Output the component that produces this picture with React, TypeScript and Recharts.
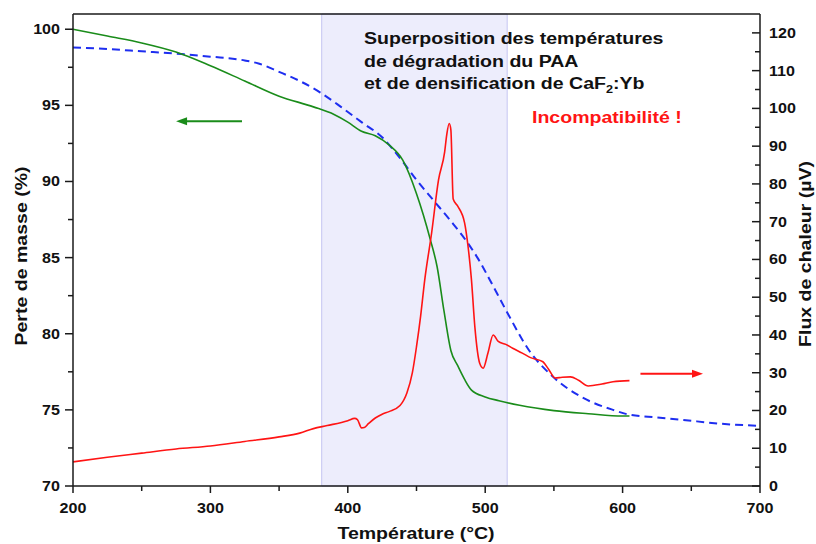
import React from 'react';
import {
  LineChart, Line, XAxis, YAxis, ReferenceArea, ReferenceLine,
} from 'recharts';

// mass loss (TGA), left axis
const massTemp = [200, 225, 250, 275, 300, 325, 350, 375, 390, 400, 410, 420, 430, 440, 450, 455, 460, 465, 470, 475, 480, 485, 490, 500, 510, 525, 550, 575, 600, 605];
const massLoss = [100, 99.55, 99.1, 98.5, 97.6, 96.6, 95.6, 94.9, 94.4, 93.9, 93.3, 93.0, 92.4, 91.4, 89.2, 87.8, 86.2, 84.4, 81.5, 78.9, 77.9, 77.0, 76.3, 75.85, 75.6, 75.3, 74.95, 74.75, 74.6, 74.6];

// densification curve (dashed), left axis
const densTemp = [200, 225, 250, 275, 300, 325, 335, 350, 365, 380, 395, 410, 425, 440, 450, 462, 475, 487, 495, 503, 516, 532, 549, 569, 593, 604, 625, 644, 670, 700];
const densCurve = [98.8, 98.7, 98.55, 98.4, 98.2, 97.95, 97.75, 97.2, 96.6, 95.84, 94.9, 93.9, 92.9, 91.3, 90.1, 88.8, 87.4, 86.0, 84.9, 83.6, 81.4, 78.9, 77.2, 75.9, 75.0, 74.7, 74.5, 74.34, 74.1, 73.95];

// heat flux (DSC), right axis
const fluxTemp = [200, 225, 250, 275, 300, 325, 350, 365, 375, 385, 400, 405, 407, 410, 412, 415, 420, 425, 430, 438, 443, 447, 450, 453, 456, 461, 466, 470.5, 472, 473.8, 475, 476.7, 480, 485, 487.5, 490, 492.5, 496, 498.5, 502, 505.8, 509.5, 515, 520, 527, 533, 542, 546, 551, 556, 562, 568, 575, 585, 593, 605];
const heatFlux = [6.4, 7.6, 8.7, 9.8, 10.6, 11.8, 13.0, 14.0, 15.2, 16.0, 17.3, 17.9, 17.6, 15.4, 15.5, 16.5, 18.0, 19.0, 19.7, 21.3, 24.6, 30, 36.9, 45, 54.6, 67, 81, 88.5, 93, 96, 94.4, 76, 74.1, 69.7, 63.5, 54.6, 42, 32.5, 31.2, 35.2, 40, 38.3, 37.5, 36.5, 35.2, 34.0, 32.9, 31, 28.6, 28.8, 28.9, 28.0, 26.5, 27.0, 27.6, 27.9];

const xTicks = [200, 250, 300, 350, 400, 450, 500, 550, 600, 650, 700];
const leftTicks = [70, 72.5, 75, 77.5, 80, 82.5, 85, 87.5, 90, 92.5, 95, 97.5, 100];
const rightTicks = [0, 5, 10, 15, 20, 25, 30, 35, 40, 45, 50, 55, 60, 65, 70, 75, 80, 85, 90, 95, 100, 105, 110, 115, 120];

const FONT = '"Liberation Sans", Arial, Helvetica, sans-serif';
const SX = 1.15;
const AXIS = '#1a1a1a';
const GREEN = '#1a8c1a';
const RED = '#ff1414';
const BLUE = '#1e2ef0';

const massData = massTemp.map((t, i) => ({ t, v: massLoss[i] }));
const densData = densTemp.map((t, i) => ({ t, v: densCurve[i] }));
const fluxData = fluxTemp.map((t, i) => ({ t, v: heatFlux[i] }));

function SText({ x, y, size = 14, anchor = 'start', fill = '#111', rotate = false, children }: any) {
  return (
    <text
      transform={`translate(${x} ${y})${rotate ? ' rotate(-90)' : ''} scale(${SX} 1)`}
      textAnchor={anchor}
      fontSize={size}
      fontWeight="bold"
      fontFamily={FONT}
      fill={fill}
    >
      {children}
    </text>
  );
}

const XTick = ({ x, y, payload }: any) => {
  const major = payload.value % 100 === 0;
  return (
    <g>
      <line x1={x} x2={x} y1={y} y2={y + (major ? 7 : 5)} stroke={AXIS} strokeWidth={1.5} />
      {major && <SText x={x} y={y + 27} anchor="middle">{payload.value}</SText>}
    </g>
  );
};

const LeftTick = ({ x, y, payload }: any) => {
  const major = payload.value % 5 === 0;
  return (
    <g>
      <line x1={x - (major ? 8 : 5)} x2={x} y1={y} y2={y} stroke={AXIS} strokeWidth={1.5} />
      {major && <SText x={x - 13} y={y + 5} anchor="end">{payload.value}</SText>}
    </g>
  );
};

const RightTick = ({ x, y, payload }: any) => {
  const major = payload.value % 10 === 0;
  return (
    <g>
      <line x1={x - (major ? 8 : 5)} x2={x} y1={y} y2={y} stroke={AXIS} strokeWidth={1.5} />
      {major && <SText x={x + 9} y={y + 5}>{payload.value}</SText>}
    </g>
  );
};

const arrow = (color: string) => (props: any) => {
  const { x1, y1, x2, y2 } = props;
  const d = x2 > x1 ? 1 : -1;
  return (
    <g>
      <line x1={x1} y1={y1} x2={x2 - d * 8} y2={y2} stroke={color} strokeWidth={2} />
      <polygon points={`${x2},${y2} ${x2 - d * 11},${y2 - 4} ${x2 - d * 11},${y2 + 4}`} fill={color} />
    </g>
  );
};

// text drawn over the chart so the shaded band does not cover it
const Notes = () => (
  <svg width={816} height={544} style={{ position: 'absolute', left: 0, top: 0, pointerEvents: 'none' }}>
    <SText x={364} y={44} size={17}>Superposition des températures</SText>
    <SText x={364} y={67} size={17}>de dégradation du PAA</SText>
    <SText x={364} y={89} size={17}>
      et de densification de CaF<tspan fontSize={11} dy={4}>2</tspan><tspan dy={-4}>:Yb</tspan>
    </SText>
    <SText x={532} y={123} size={17} fill={RED}>Incompatibilité !</SText>
    <SText x={416} y={539} size={17} anchor="middle">Température (°C)</SText>
    <SText x={27} y={256} size={17} anchor="middle" rotate>Perte de masse (%)</SText>
    <SText x={811} y={254} size={17} anchor="middle" rotate>Flux de chaleur (µV)</SText>
  </svg>
);

export default function App() {
  return (
    <div style={{ position: 'absolute', left: 0, top: 0, width: 816, height: 544, background: '#fff' }}>
      <LineChart width={816} height={544} margin={{ top: 14, right: 0, bottom: 0, left: 0 }}>
        <XAxis
          xAxisId="x" dataKey="t" type="number" domain={[200, 700]} ticks={xTicks} interval={0}
          allowDataOverflow height={58} tickSize={0} tickMargin={0} tickLine={false}
          axisLine={{ stroke: AXIS, strokeWidth: 1.5 }} tick={<XTick />}
        />
        <YAxis
          yAxisId="left" orientation="left" type="number" domain={[70, 101]} ticks={leftTicks} interval={0}
          allowDataOverflow width={73} tickSize={0} tickMargin={0} tickLine={false}
          axisLine={{ stroke: AXIS, strokeWidth: 1.5 }} tick={<LeftTick />}
        />
        <YAxis
          yAxisId="right" orientation="right" type="number" domain={[0, 125]} ticks={rightTicks} interval={0}
          allowDataOverflow width={56} tickSize={0} tickMargin={0} tickLine={false}
          axisLine={{ stroke: AXIS, strokeWidth: 1.5 }} tick={<RightTick />}
        />
        <ReferenceArea
          xAxisId="x" yAxisId="left" x1={381} x2={516}
          fill="#ededfc" fillOpacity={1} stroke="#c6c6f2" strokeWidth={1}
        />
        <ReferenceLine xAxisId="x" yAxisId="left" y={101} stroke={AXIS} strokeWidth={1.5} />
        <Line
          xAxisId="x" yAxisId="left" data={densData} dataKey="v" type="monotone"
          stroke={BLUE} strokeWidth={2} strokeDasharray="8 5" dot={false} isAnimationActive={false}
        />
        <Line
          xAxisId="x" yAxisId="left" data={massData} dataKey="v" type="monotone"
          stroke={GREEN} strokeWidth={1.6} dot={false} isAnimationActive={false}
        />
        <Line
          xAxisId="x" yAxisId="right" data={fluxData} dataKey="v" type="monotone"
          stroke={RED} strokeWidth={1.6} dot={false} isAnimationActive={false}
        />
        <ReferenceLine
          xAxisId="x" yAxisId="left" segment={[{ x: 323, y: 93.95 }, { x: 275, y: 93.95 }]}
          shape={arrow(GREEN)}
        />
        <ReferenceLine
          xAxisId="x" yAxisId="right" segment={[{ x: 613, y: 29.7 }, { x: 658.5, y: 29.7 }]}
          shape={arrow(RED)}
        />
      </LineChart>
      <Notes />
    </div>
  );
}
